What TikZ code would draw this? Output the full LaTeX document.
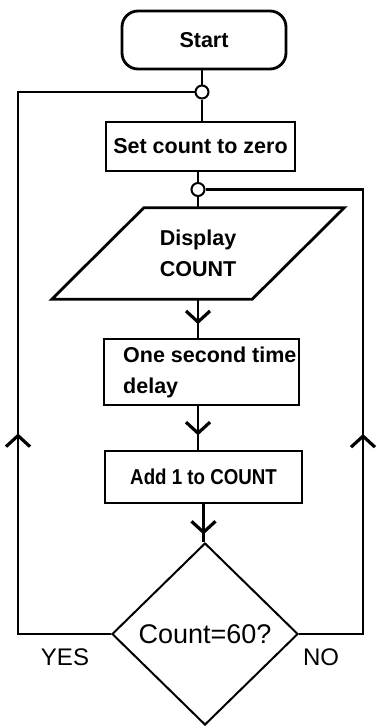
\documentclass[tikz,border=0pt]{standalone}
\usepackage{fontspec}
\setmainfont{Liberation Sans}
\usetikzlibrary{shapes.geometric,arrows.meta,decorations.markings,calc}
\tikzset{
  box/.style={draw, line width=2.8pt, rectangle, inner sep=0pt,
    font=\fontsize{21.5}{31}\selectfont\bfseries},
  btext/.style={inner sep=0pt, font=\fontsize{21.5}{31}\selectfont\bfseries},
  conn/.style={line width=2.8pt},
  junc/.style={circle, draw, fill=white, line width=2pt, minimum size=13pt, inner sep=0pt},
  midbarb/.style={postaction={decorate}, decoration={markings,
    mark=at position #1 with {\arrow{Straight Barb[length=11pt,width=24pt,line width=3.2pt]}}}},
  lbl/.style={font=\fontsize{24}{28}\selectfont, inner sep=0pt},
}
\begin{document}
\begin{tikzpicture}[x=1pt,y=-1pt]
\useasboundingbox (0,0) rectangle (376,728);
\fill[white] (0,0) rectangle (376,728);

% nodes
\node[box, rounded corners=16pt, minimum width=164pt, minimum height=58pt] (start) at (204,40) {Start};
\node[junc] (j1) at (202,92) {};
\node[box, minimum width=189pt, minimum height=49pt] (set) at (200.5,146.5) {Set count to zero};
\node[junc] (j2) at (198,189.5) {};
\node[btext, minimum width=200pt, minimum height=91pt, align=center] (disp) at (198,253.5) {Display\\COUNT};
\draw[conn, line join=miter] ($(disp.north west)+(46,0)$) -- ($(disp.north east)+(46,0)$)
  -- ($(disp.south east)+(-46,0)$) -- ($(disp.south west)+(-46,0)$) -- cycle;
\node[box, minimum width=195pt, minimum height=66pt] (delay) at (201.5,372) {};
\node[btext, anchor=west, align=left] (dtxt) at (123,372.5) {One second time\\delay};
\node[box, minimum width=197pt, minimum height=52pt] (add) at (203.5,477) {\scalebox{0.87}[1]{Add 1 to COUNT}};
\node[diamond, draw, line width=2pt, minimum width=186pt, minimum height=182pt, inner sep=0pt,
  font=\fontsize{27}{30}\selectfont] (dec) at (205,634) {Count=60?};
\node[lbl] (yes) at (65,657) {YES};
\node[lbl] (no) at (321,657) {NO};

% connectors
\draw[conn] (start.south -| j1) -- (j1);
\draw[conn] (j1) -- (set.north -| j1);
\draw[conn] (set.south -| j2) -- (j2);
\draw[conn] (j2) -- (disp.north -| j2);
\draw[conn, midbarb=0.65] (disp.south) -- (disp.south |- delay.north);
\draw[conn, midbarb=0.67] (delay.south -| disp.south) -- (disp.south |- add.north);
\draw[conn, midbarb=0.8] (add.south) -- (add.south |- dec.north);

\coordinate (cl1) at (18,634);
\coordinate (cr1) at (363,634);
\draw[conn, line join=miter] (dec.west) -- (cl1) -- (cl1 |- j1) -- (j1.west);
\draw[conn, line join=miter] (dec.east) -- (cr1) -- (cr1 |- j2) -- (j2.east);
\draw[conn, midbarb=0.37] (cl1) -- (cl1 |- j1);
\draw[conn, midbarb=0.45] (cr1) -- (cr1 |- j2);
\end{tikzpicture}
\end{document}
